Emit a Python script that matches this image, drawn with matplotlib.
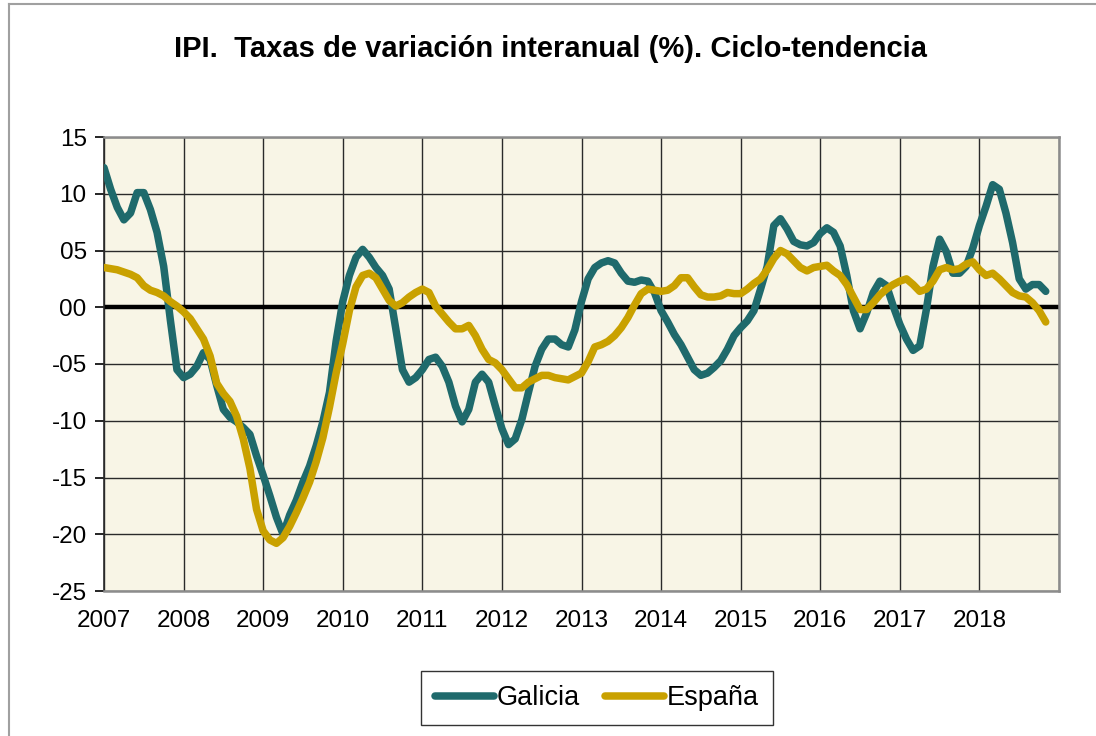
import numpy as np
import matplotlib
matplotlib.use("Agg")
import matplotlib.pyplot as plt
from matplotlib.lines import Line2D

# Tasas de variación interanual (%), mensual desde enero 2007
galicia = [
    12.3, 10.4, 8.8, 7.7, 8.3, 10.1, 10.1, 8.6, 6.6, 3.6, -1.1, -5.5,
    -6.2, -5.9, -5.2, -4.0, -4.6, -6.9, -9.0, -9.7, -10.1, -10.6, -11.2, -13.1,
    -14.8, -16.6, -18.5, -20.0, -18.3, -17.0, -15.4, -14.0, -12.2, -10.1, -7.5, -3.0,
    0.5, 2.8, 4.4, 5.1, 4.4, 3.5, 2.8, 1.6, -1.9, -5.5, -6.6, -6.2,
    -5.5, -4.6, -4.4, -5.2, -6.6, -8.7, -10.1, -9.0, -6.6, -5.9, -6.6, -8.7,
    -10.7, -12.1, -11.6, -9.9, -7.5, -5.2, -3.7, -2.8, -2.8, -3.3, -3.5, -2.0,
    0.5, 2.5, 3.5, 3.9, 4.1, 3.9, 3.0, 2.3, 2.2, 2.4, 2.3, 1.3,
    -0.3, -1.3, -2.4, -3.3, -4.4, -5.5, -6.0, -5.8, -5.3, -4.7, -3.7, -2.5,
    -1.8, -1.2, -0.3, 1.6, 3.6, 7.2, 7.8, 6.9, 5.8, 5.5, 5.4, 5.7,
    6.5, 7.0, 6.6, 5.4, 2.8, -0.3, -1.9, -0.5, 1.3, 2.3, 1.9, 0.1,
    -1.5, -2.8, -3.8, -3.4, -0.2, 3.6, 6.0, 4.9, 3.0, 3.0, 3.6, 5.2,
    7.2, 8.9, 10.8, 10.4, 8.3, 5.7, 2.5, 1.6, 2.0, 2.0, 1.4,
]
espana = [
    3.5, 3.4, 3.3, 3.1, 2.9, 2.6, 1.9, 1.5, 1.3, 1.0, 0.5, 0.1,
    -0.4, -1.0, -1.9, -2.8, -4.3, -6.7, -7.6, -8.3, -9.6, -11.6, -14.2, -17.8,
    -19.7, -20.5, -20.8, -20.3, -19.3, -18.1, -16.8, -15.4, -13.6, -11.5, -8.8, -5.8,
    -3.2, -0.3, 1.8, 2.8, 3.0, 2.6, 1.6, 0.6, 0.1, 0.4, 0.9, 1.3,
    1.6, 1.3, 0.1, -0.6, -1.3, -1.9, -1.9, -1.6, -2.5, -3.7, -4.6, -4.9,
    -5.5, -6.3, -7.1, -7.1, -6.6, -6.3, -6.0, -6.0, -6.2, -6.3, -6.4, -6.1,
    -5.8, -4.8, -3.5, -3.3, -3.0, -2.5, -1.8, -0.9, 0.2, 1.2, 1.6, 1.5,
    1.4, 1.5, 1.9, 2.6, 2.6, 1.8, 1.1, 0.9, 0.9, 1.0, 1.3, 1.2,
    1.2, 1.6, 2.1, 2.5, 3.3, 4.3, 5.0, 4.7, 4.1, 3.5, 3.2, 3.5,
    3.6, 3.7, 3.2, 2.8, 2.0, 0.9, -0.2, -0.2, 0.4, 1.1, 1.6, 2.0,
    2.3, 2.5, 2.0, 1.4, 1.6, 2.3, 3.3, 3.5, 3.3, 3.4, 3.8, 4.0,
    3.3, 2.8, 3.0, 2.5, 1.9, 1.3, 1.0, 0.9, 0.4, -0.3, -1.3,
]
years = list(range(2007, 2020))
year_labels = [str(y) for y in range(2007, 2019)] + [""]
y_ticks = [15, 10, 5, 0, -5, -10, -15, -20, -25]
y_labels = ["15", "10", "05", "00", "-05", "-10", "-15", "-20", "-25"]

plt.rcParams['font.family'] = ['Liberation Sans', 'DejaVu Sans']

fig = plt.figure(figsize=(10.96, 7.36), dpi=100)
ax = fig.add_axes([104 / 1096, 1 - 591 / 736, 955 / 1096, 454 / 736])
ax.set_facecolor('#F8F5E6')

x = 2007 + np.arange(len(galicia)) / 12
x_es = 2007 + np.arange(len(espana)) / 12

ax.axhline(0, color='black', lw=3.2, zorder=2)
ax.plot(x, galicia, color='#1F6A6C', lw=5.4, label='Galicia', zorder=3,
        solid_capstyle='round', solid_joinstyle='round')
ax.plot(x_es, espana, color='#C9A100', lw=5.4, label='España', zorder=4,
        solid_capstyle='round', solid_joinstyle='round')

ax.set_xlim(2007, 2019)
ax.set_ylim(-25, 15)
ax.set_xticks(years)
ax.set_xticklabels(year_labels)
ax.set_yticks(y_ticks)
ax.set_yticklabels(y_labels)
ax.grid(True, color='#2a2a2a', lw=1.0, zorder=1)
ax.set_axisbelow(True)

ax.tick_params(axis='x', length=0, pad=14, labelsize=17.5)
ax.tick_params(axis='y', length=6.5, width=1.2, direction='out', pad=6, labelsize=17.5)
for side in ['top', 'right', 'bottom']:
    ax.spines[side].set_color('#8c8c8c')
    ax.spines[side].set_linewidth(1.8)
ax.spines['left'].set_color('#2a2a2a')
ax.spines['left'].set_linewidth(1.2)

fig.text(550 / 1096, 1 - 49 / 736, 'IPI.  Taxas de variación interanual (%). Ciclo-tendencia',
         ha='center', va='center', fontsize=21, fontweight='bold')

leg = fig.legend(loc='center', bbox_to_anchor=(597 / 1096, 1 - 698 / 736), ncol=2,
                 fontsize=19.5, frameon=True, fancybox=False, edgecolor='black',
                 handlelength=2.2, handletextpad=0.1, columnspacing=0.9,
                 borderpad=0.5)
leg.get_frame().set_linewidth(1.0)

# borde del área del gráfico (solo visible arriba y a la izquierda)
fig.add_artist(Line2D([9 / 1096, 9 / 1096], [0, 1 - 4 / 736], color='#a0a0a0', lw=1.5,
                      transform=fig.transFigure))
fig.add_artist(Line2D([9 / 1096, 1], [1 - 4 / 736, 1 - 4 / 736], color='#a0a0a0', lw=1.5,
                      transform=fig.transFigure))

fig.savefig('out.png', dpi=100)
